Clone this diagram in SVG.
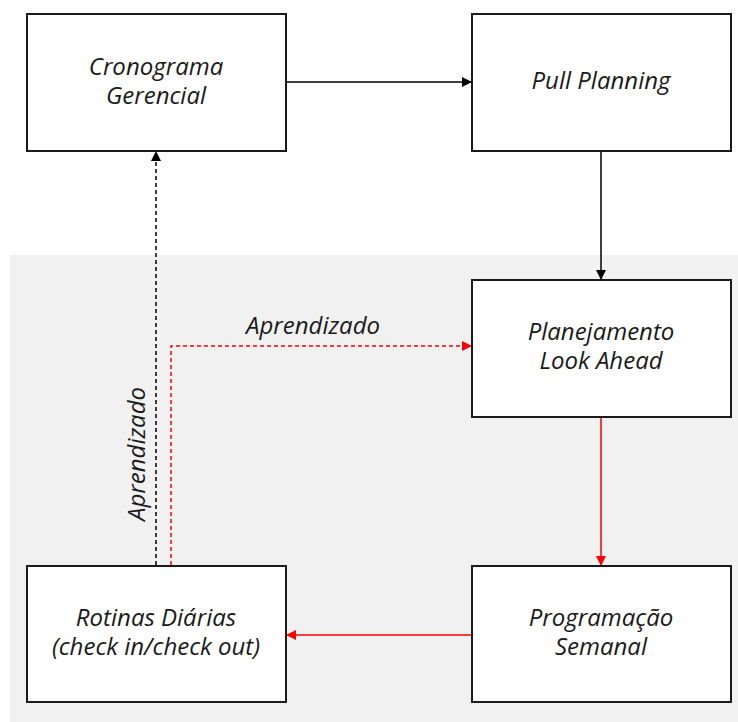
<svg xmlns="http://www.w3.org/2000/svg" width="738" height="722" viewBox="0 0 738 722">
  <style>
    .box { fill: #ffffff; stroke: #1a1a1a; stroke-width: 2; }
    .lbl { font-family: "Open Sans", "Noto Sans", sans-serif; font-style: italic; font-size: 24px; fill: #1a1a1a; text-anchor: middle; }
    .blk { stroke: #000000; stroke-width: 1.5; fill: none; }
    .red { stroke: #ff0000; stroke-width: 1.5; fill: none; }
    .dash { stroke-dasharray: 4 3; }
  </style>
  <defs>
    <marker id="ahBlack" markerWidth="10" markerHeight="10" refX="9" refY="5" orient="auto" markerUnits="userSpaceOnUse">
      <path d="M0,0 L10,5 L0,10 Z" fill="#000000"/>
    </marker>
    <marker id="ahRed" markerWidth="10" markerHeight="10" refX="9" refY="5" orient="auto" markerUnits="userSpaceOnUse">
      <path d="M0,0 L10,5 L0,10 Z" fill="#ff0000"/>
    </marker>
  </defs>

  <!-- shaded execution zone -->
  <rect x="10" y="255" width="728" height="467" fill="#f1f1f1"/>

  <g id="connectors">
    <line class="blk" x1="287" y1="82" x2="471" y2="82" marker-end="url(#ahBlack)"/>
    <line class="blk" x1="601" y1="152" x2="601" y2="279" marker-end="url(#ahBlack)"/>
    <line class="red" x1="601" y1="418" x2="601" y2="565" marker-end="url(#ahRed)"/>
    <line class="red" x1="471" y1="635" x2="287" y2="635" marker-end="url(#ahRed)"/>
    <line class="blk dash" x1="156" y1="565" x2="156" y2="152" marker-end="url(#ahBlack)"/>
    <polyline class="red dash" points="171,565 171,346 471,346" marker-end="url(#ahRed)"/>
    <text class="lbl" x="313" y="334">Aprendizado</text>
    <text class="lbl" transform="translate(145 454) rotate(-90)">Aprendizado</text>
  </g>

  <g id="cronograma">
    <rect class="box" x="27" y="14" width="259" height="137"/>
    <text class="lbl" x="156" y="75">Cronograma</text>
    <text class="lbl" x="156" y="104">Gerencial</text>
  </g>

  <g id="pull-planning">
    <rect class="box" x="472" y="14" width="259" height="137"/>
    <text class="lbl" x="601" y="89">Pull Planning</text>
  </g>

  <g id="look-ahead">
    <rect class="box" x="472" y="280" width="259" height="137"/>
    <text class="lbl" x="601" y="340">Planejamento</text>
    <text class="lbl" x="601" y="369">Look Ahead</text>
  </g>

  <g id="programacao">
    <rect class="box" x="472" y="566" width="259" height="136"/>
    <text class="lbl" x="601" y="626">Programação</text>
    <text class="lbl" x="601" y="655">Semanal</text>
  </g>

  <g id="rotinas">
    <rect class="box" x="27" y="566" width="259" height="136"/>
    <text class="lbl" x="156" y="626">Rotinas Diárias</text>
    <text class="lbl" x="156" y="655">(check in/check out)</text>
  </g>
</svg>
